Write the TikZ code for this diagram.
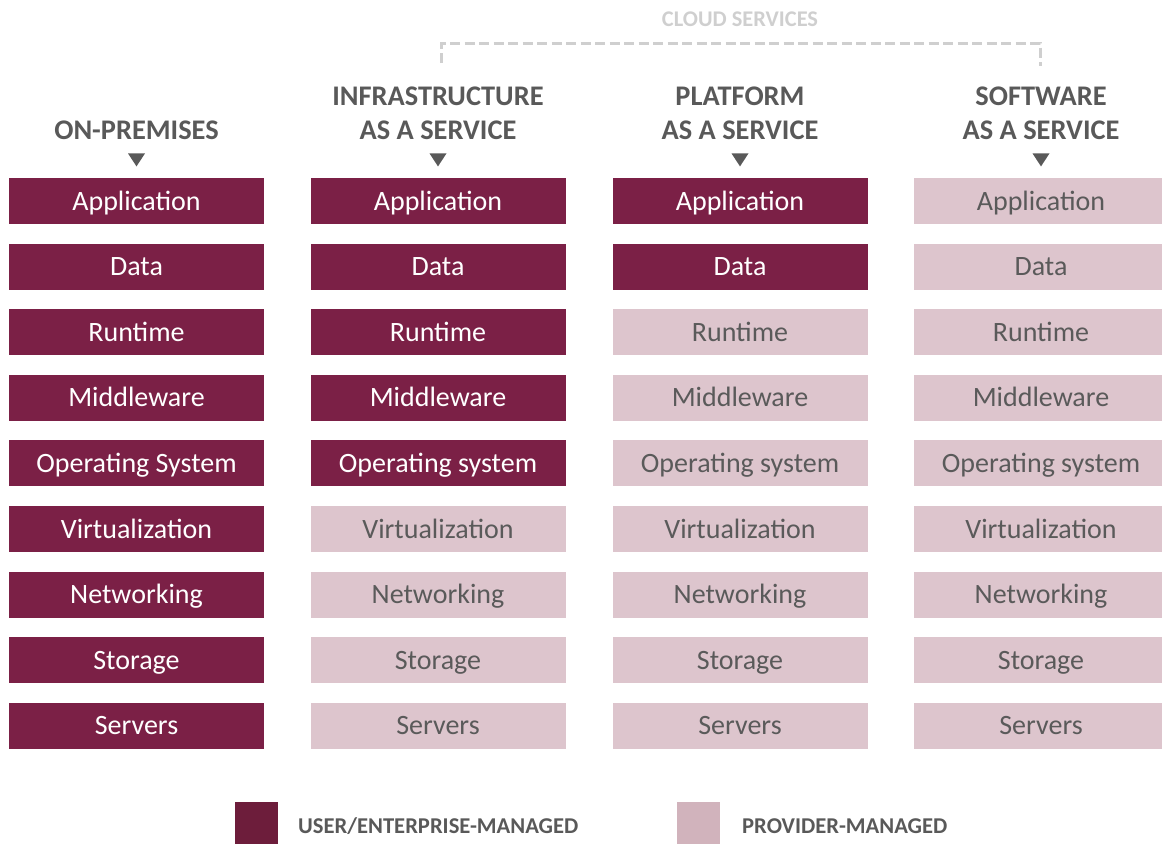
\documentclass[tikz,border=0pt]{standalone}
\usepackage{fontspec}
\setmainfont{Carlito}
\usetikzlibrary{shapes.geometric}
\definecolor{usercol}{HTML}{7B2046}
\definecolor{provcol}{HTML}{DDC5CD}
\definecolor{userkey}{HTML}{6D1D3B}
\definecolor{provkey}{HTML}{D1B3BC}
\definecolor{headgray}{HTML}{595959}
\definecolor{textgray}{HTML}{5A5A5A}
\definecolor{cloudgray}{HTML}{CFCFCF}
\begin{document}
\begin{tikzpicture}[x=1pt,y=-1pt,
  user node/.style={rectangle,fill=usercol,text=white,minimum width=255pt,minimum height=46pt,
    inner sep=0pt,text height=18pt,text depth=0pt,font=\fontsize{28}{30}\selectfont},
  prov node/.style={user node,fill=provcol,text=textgray},
  head node/.style={align=center,inner sep=0pt,text=headgray,font=\bfseries\fontsize{28.4}{34}\selectfont},
  tri node/.style={isosceles triangle,shape border rotate=-90,isosceles triangle stretches,
    fill=headgray,inner sep=0pt,minimum width=17pt,minimum height=13pt},
  key node/.style={rectangle,inner sep=0pt,minimum width=43pt,minimum height=42pt},
  key text/.style={anchor=west,inner sep=0pt,text=headgray,font=\bfseries\fontsize{22.6}{24}\selectfont},
  cloud line/.style={cloudgray,line width=3pt,dash pattern=on 10pt off 4.5pt}]

  \clip (0,0) rectangle (1162,844);

  % cloud services bracket
  \node[inner sep=0pt,text=cloudgray,font=\bfseries\fontsize{22.4}{24}\selectfont] (cloud) at (740,19) {CLOUD SERVICES};
  \coordinate (cl1) at (441,63);
  \coordinate (cl2) at (441,43);
  \coordinate (cl3) at (1040,43);
  \coordinate (cl4) at (1040,66);
  \draw[cloud line] (cl1) -- (cl2) -- (cl3) -- (cl4);

  % headers
  \node[head node] (hop) at (136.5,130) {ON-PREMISES};
  \node[head node] (hia) at (438,113) {INFRASTRUCTURE\\AS A SERVICE};
  \node[head node] (hpa) at (740,113) {PLATFORM\\AS A SERVICE};
  \node[head node] (hsa) at (1041,113) {SOFTWARE\\AS A SERVICE};
  \node[tri node] (top) at (136.5,158) {};
  \node[tri node] (tia) at (438,158) {};
  \node[tri node] (tpa) at (740,158) {};
  \node[tri node] (tsa) at (1041,158) {};

  % on-premises
  \node[user node] (op1) at (136.5,201) {Application};
  \node[user node] (op2) at (136.5,266.6) {Data};
  \node[user node] (op3) at (136.5,332.2) {Runtime};
  \node[user node] (op4) at (136.5,397.8) {Middleware};
  \node[user node] (op5) at (136.5,463.4) {Operating System};
  \node[user node] (op6) at (136.5,529) {Virtualization};
  \node[user node] (op7) at (136.5,594.6) {Networking};
  \node[user node] (op8) at (136.5,660.2) {Storage};
  \node[user node] (op9) at (136.5,725.8) {Servers};

  % infrastructure as a service
  \node[user node] (ia1) at (438,201) {Application};
  \node[user node] (ia2) at (438,266.6) {Data};
  \node[user node] (ia3) at (438,332.2) {Runtime};
  \node[user node] (ia4) at (438,397.8) {Middleware};
  \node[user node] (ia5) at (438,463.4) {Operating system};
  \node[prov node] (ia6) at (438,529) {Virtualization};
  \node[prov node] (ia7) at (438,594.6) {Networking};
  \node[prov node] (ia8) at (438,660.2) {Storage};
  \node[prov node] (ia9) at (438,725.8) {Servers};

  % platform as a service
  \node[user node] (pa1) at (740,201) {Application};
  \node[user node] (pa2) at (740,266.6) {Data};
  \node[prov node] (pa3) at (740,332.2) {Runtime};
  \node[prov node] (pa4) at (740,397.8) {Middleware};
  \node[prov node] (pa5) at (740,463.4) {Operating system};
  \node[prov node] (pa6) at (740,529) {Virtualization};
  \node[prov node] (pa7) at (740,594.6) {Networking};
  \node[prov node] (pa8) at (740,660.2) {Storage};
  \node[prov node] (pa9) at (740,725.8) {Servers};

  % software as a service
  \node[prov node] (sa1) at (1041,201) {Application};
  \node[prov node] (sa2) at (1041,266.6) {Data};
  \node[prov node] (sa3) at (1041,332.2) {Runtime};
  \node[prov node] (sa4) at (1041,397.8) {Middleware};
  \node[prov node] (sa5) at (1041,463.4) {Operating system};
  \node[prov node] (sa6) at (1041,529) {Virtualization};
  \node[prov node] (sa7) at (1041,594.6) {Networking};
  \node[prov node] (sa8) at (1041,660.2) {Storage};
  \node[prov node] (sa9) at (1041,725.8) {Servers};

  % legend
  \node[key node,fill=userkey] (kuser) at (256.5,823) {};
  \node[key text] (tuser) at (298,826) {USER/ENTERPRISE-MANAGED};
  \node[key node,fill=provkey] (kprov) at (698,823) {};
  \node[key text] (tprov) at (742,826) {PROVIDER-MANAGED};
\end{tikzpicture}
\end{document}
